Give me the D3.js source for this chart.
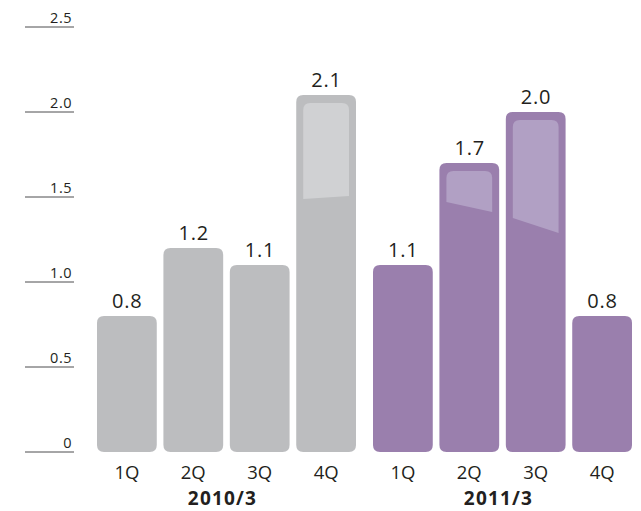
<!DOCTYPE html>
<html>
<head>
<meta charset="utf-8">
<script src="https://cdn.jsdelivr.net/npm/d3@7"></script>
<style>
  html, body { margin: 0; padding: 0; background: #ffffff; }
  svg { display: block; }
  text { font-family: "Open Sans", "Noto Sans", sans-serif; fill: #231f20; }
</style>
</head>
<body>
<svg id="chart" width="641" height="511"></svg>
<script>
const years = ["2010/3", "2011/3"];
const quarters = ["1Q", "2Q", "3Q", "4Q"];
const values2010 = [0.8, 1.2, 1.1, 2.1];
const values2011 = [1.1, 1.7, 2.0, 0.8];
const yTicks = [0, 0.5, 1.0, 1.5, 2.0, 2.5];
const yTickLabels = ["0", "0.5", "1.0", "1.5", "2.0", "2.5"];

const seriesByYear = [values2010, values2011];
const colors = { "2010/3": "#bcbdbf", "2011/3": "#9a7fad" };
const glossColors = { "2010/3": "#d0d1d3", "2011/3": "#b1a0c4" };

const svg = d3.select("#chart");
const y = d3.scaleLinear().domain([0, 2.5]).range([452, 27]);
const xGroup = d3.scaleBand().domain(years).range([88.5, 640.5]).padding(0);
const xQ = d3.scaleBand().domain(quarters).range([8.5, xGroup.bandwidth() - 8.5]).paddingInner(0.1).paddingOuter(0);

// Y axis: short rules with labels above them
const yAxis = svg.append("g");
yTicks.forEach((t, i) => {
  yAxis.append("line")
    .attr("x1", 25).attr("x2", 74)
    .attr("y1", y(t)).attr("y2", y(t))
    .attr("stroke", "#4d4d4f").attr("stroke-width", 1);
  yAxis.append("text")
    .attr("x", 72).attr("y", y(t) - 4)
    .attr("text-anchor", "end")
    .attr("font-size", 14.5)
    .attr("letter-spacing", 0.5)
    .text(yTickLabels[i]);
});

function roundedBar(x, yTop, w, h, r) {
  return `M${x},${yTop + r}Q${x},${yTop} ${x + r},${yTop}H${x + w - r}Q${x + w},${yTop} ${x + w},${yTop + r}` +
    `V${yTop + h - r}Q${x + w},${yTop + h} ${x + w - r},${yTop + h}H${x + r}Q${x},${yTop + h} ${x},${yTop + h - r}Z`;
}

// gloss shape (depth of highlight below bar top, left and right edges) for tall bars
function glossDepth(v) {
  if (v >= 2.05) return [104, 101];
  if (v >= 1.9) return [106, 121];
  return [39, 49];
}

years.forEach((yr, gi) => {
  const g = svg.append("g").attr("transform", `translate(${xGroup(yr)},0)`);
  const vals = seriesByYear[gi];
  quarters.forEach((q, qi) => {
    const v = vals[qi];
    const x0 = xQ(q), w = xQ.bandwidth();
    const top = y(v), h = y(0) - y(v);
    g.append("path")
      .attr("d", roundedBar(x0, top, w, h, 7))
      .attr("fill", colors[yr]);
    if (v >= 1.6) {
      const [dl, dr] = glossDepth(v);
      const ix = x0 + 7, iw = w - 14, it = top + 8, r = 7;
      const d = `M${ix},${top + dl}V${it + r}Q${ix},${it} ${ix + r},${it}H${ix + iw - r}Q${ix + iw},${it} ${ix + iw},${it + r}V${top + dr}Z`;
      g.append("path").attr("d", d).attr("fill", glossColors[yr]);
    }
    g.append("text")
      .attr("x", x0 + w / 2 + 0.4).attr("y", top - 8)
      .attr("text-anchor", "middle")
      .attr("font-size", 20)
      .attr("letter-spacing", 0.8)
      .text(d3.format(".1f")(v));
    g.append("text")
      .attr("x", x0 + w / 2).attr("y", 479)
      .attr("text-anchor", "middle")
      .attr("font-size", 18.5)
      .text(q);
  });
  g.append("text")
    .attr("x", xGroup.bandwidth() / 2 - 4).attr("y", 505)
    .attr("text-anchor", "middle")
    .attr("font-size", 19)
    .attr("font-weight", "bold")
    .attr("letter-spacing", 1.2)
    .text(yr);
});
</script>
</body>
</html>
